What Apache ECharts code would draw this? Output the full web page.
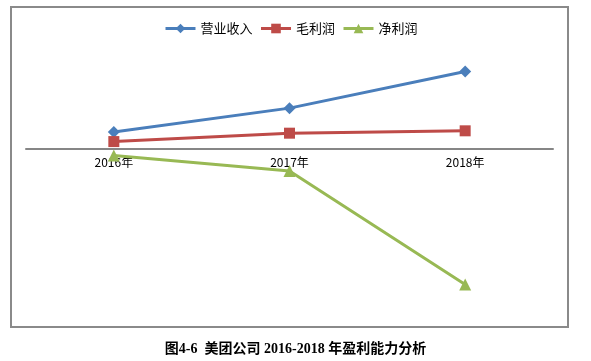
<!DOCTYPE html>
<html><head><meta charset="utf-8">
<script src="https://cdn.jsdelivr.net/npm/echarts@6/dist/echarts.min.js"></script>
<style>html,body{margin:0;padding:0;background:#fff}#c{width:591px;height:361px}</style>
</head><body><div id="c"></div>
<script>
const categories = ['2016年', '2017年', '2018年'];
const revenue = [140, 342, 652];
const grossProfit = [59, 130, 150];
const netProfit = [-58, -190, -1150];
const seriesNames = ['营业收入', '毛利润', '净利润'];
const caption = '图4-6  美团公司 2016-2018 年盈利能力分析';

const chart = echarts.init(document.getElementById('c'));
const colors = ['#4a7ebb', '#be4b48', '#98b954'];
const yMin = -1400, yMax = 800, gTop = 54, gH = 260;
const zeroH = gH * yMax / (yMax - yMin);
chart.setOption({
  animation: false,
  color: colors,
  legend: {
    top: 22, left: 164, padding: 0,
    itemWidth: 30, itemHeight: 12, itemGap: 7,
    lineStyle: { width: 3 },
    textStyle: { fontSize: 13, color: '#000', fontFamily: 'Noto Sans CJK SC' },
    data: seriesNames
  },
  grid: [
    { left: 26, right: 38, top: gTop, height: gH },
    { left: 26, right: 38, top: gTop, height: zeroH }
  ],
  xAxis: [
    {
      type: 'category', data: categories, gridIndex: 0,
      axisLine: { onZero: true, lineStyle: { color: '#868686', width: 2 } },
      axisTick: { show: false },
      axisLabel: { show: false }
    },
    {
      type: 'category', data: categories, gridIndex: 1, position: 'bottom',
      axisLine: { show: false },
      axisTick: { show: false },
      axisLabel: { color: '#000', fontSize: 12, fontFamily: 'Noto Sans CJK SC', margin: 8 }
    }
  ],
  yAxis: [
    { type: 'value', min: yMin, max: yMax, show: false, splitLine: { show: false }, gridIndex: 0 },
    { type: 'value', min: 0, max: 1, show: false, splitLine: { show: false }, gridIndex: 1 }
  ],
  series: [
    { name: seriesNames[0], type: 'line', data: revenue, symbol: 'diamond', symbolSize: 12,
      lineStyle: { width: 3 } },
    { name: seriesNames[1], type: 'line', data: grossProfit, symbol: 'rect', symbolSize: 11,
      lineStyle: { width: 3 } },
    { name: seriesNames[2], type: 'line', data: netProfit, symbol: 'triangle', symbolSize: 12,
      lineStyle: { width: 3 } }
  ],
  graphic: [
    { type: 'rect', shape: { x: 11, y: 7, width: 557, height: 320 }, silent: true,
      style: { fill: 'none', stroke: '#8a8a8a', lineWidth: 2 } },
    { type: 'text', left: 'center', top: 342,
      style: { text: caption, fontSize: 14, fontWeight: 'bold', fill: '#000',
        fontFamily: 'Liberation Serif, Noto Sans CJK SC' } }
  ]
});
</script></body></html>
